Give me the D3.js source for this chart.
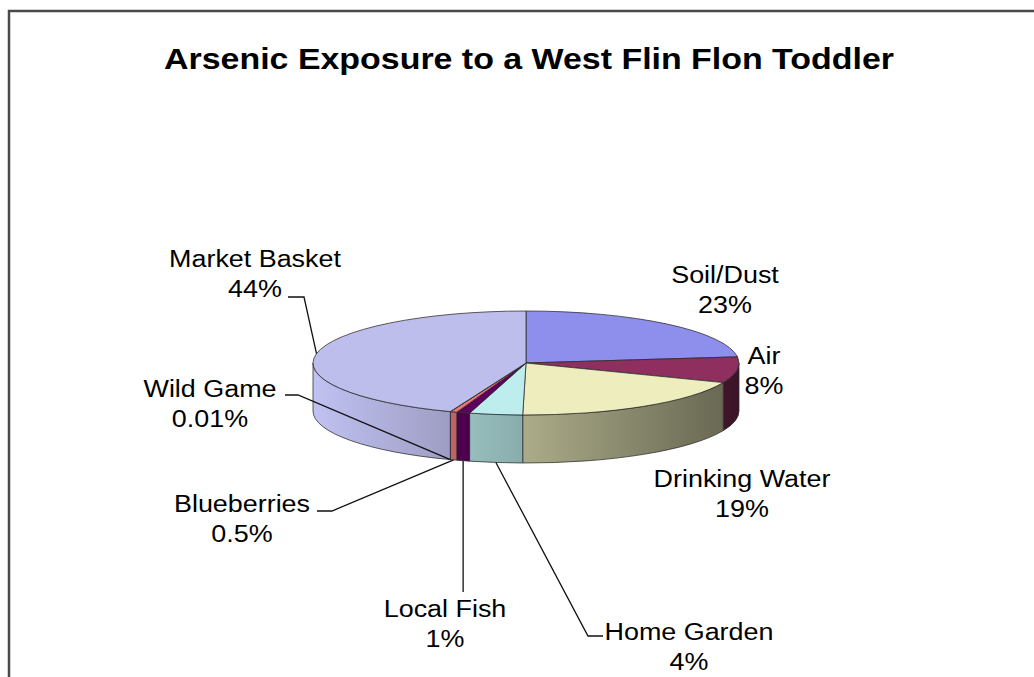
<!DOCTYPE html>
<html>
<head>
<meta charset="utf-8">
<script src="https://cdn.jsdelivr.net/npm/d3@7"></script>
<style>
  html, body { margin: 0; padding: 0; background: #ffffff; }
  svg { display: block; }
  text { font-family: "Liberation Sans", Arial, sans-serif; fill: #000; }
</style>
</head>
<body>
<svg id="chart" width="1034" height="677"></svg>
<script>
// Arsenic exposure sources, clockwise from 12 o'clock
const categories = ["Soil/Dust", "Air", "Drinking Water", "Home Garden", "Local Fish", "Blueberries", "Wild Game", "Market Basket"];
const values = [23, 8, 19, 4, 1, 0.5, 0.01, 44];
const valueLabels = ["23%", "8%", "19%", "4%", "1%", "0.5%", "0.01%", "44%"];
const colors = ["#9999FF", "#993366", "#FFFFCC", "#CCFFFF", "#660066", "#FF8080", "#0066CC", "#CCCCFF"];
const title = "Arsenic Exposure to a West Flin Flon Toddler";

// Geometry of the tilted pie
const W = 1034, H = 677;
const cx = 526, cy = 363, rx = 213, ry = 52, depth = 48;
const textStretch = 1.17;

// Label placement: text centre / first baseline, and leader line elbows
const labelLayout = {
  "Soil/Dust":      { x: 725, y: 283 },
  "Air":            { x: 764, y: 364 },
  "Drinking Water": { x: 742, y: 487 },
  "Home Garden":    { x: 689, y: 640, leader: [[603, 636], [588, 636]], rim: "bottom" },
  "Local Fish":     { x: 445, y: 617, leader: "vertical", leaderEnd: 592, rim: "bottom" },
  "Blueberries":    { x: 242, y: 512, leader: [[317, 511], [332, 511]], rim: "bottom" },
  "Wild Game":      { x: 210, y: 397, leader: [[285, 395], [298, 395]], rim: "bottom" },
  "Market Basket":  { x: 255, y: 267, leader: [[288, 297], [304, 297]], rim: "top" }
};

const svg = d3.select("#chart");
const defs = svg.append("defs");

// Frame
svg.append("path")
  .attr("d", `M9,${H + 5} L9,11 L${W + 5},11`)
  .attr("fill", "none")
  .attr("stroke", "#4a4a4a")
  .attr("stroke-width", 2.5);

// Title
svg.append("text")
  .attr("transform", `translate(529,69) scale(${textStretch},1)`)
  .attr("text-anchor", "middle")
  .attr("font-size", 29)
  .attr("font-weight", "bold")
  .text(title);

const data = categories.map((c, i) => ({ name: c, value: values[i], label: valueLabels[i], color: colors[i] }));

const pie = d3.pie().sort(null).value(d => d.value).startAngle(0).endAngle(2 * Math.PI);
const arcs = pie(data);

// angle measured clockwise from 12 o'clock
const px = a => cx + rx * Math.sin(a);
const py = (a, dz = 0) => cy - ry * Math.cos(a) + dz;

// Side shading: lighter on the left, darker on the right
const shade = s => 0.67 - 0.28 * s;
const topShade = 0.93;

arcs.forEach((d, i) => {
  const g = defs.append("linearGradient")
    .attr("id", "side" + i)
    .attr("gradientUnits", "userSpaceOnUse")
    .attr("x1", cx - rx).attr("y1", 0)
    .attr("x2", cx + rx).attr("y2", 0);
  const base = d3.rgb(d.data.color);
  d3.range(0, 1.0001, 0.1).forEach(t => {
    const s = -1 + 2 * t;
    const f = shade(s);
    g.append("stop")
      .attr("offset", t)
      .attr("stop-color", d3.rgb(base.r * f, base.g * f, base.b * f).formatHex());
  });
});

const walls = svg.append("g");
const tops = svg.append("g");
const outline = { stroke: "#2b2b2b", width: 0.9, opacity: 0.85 };

// Front outer walls (visible between 3 and 9 o'clock)
arcs.forEach((d, i) => {
  const s = Math.max(d.startAngle, Math.PI / 2);
  const e = Math.min(d.endAngle, 3 * Math.PI / 2);
  if (e <= s) return;
  const large = (e - s) > Math.PI ? 1 : 0;
  const p = `M${px(s)},${py(s)}` +
    ` A${rx},${ry} 0 ${large} 1 ${px(e)},${py(e)}` +
    ` L${px(e)},${py(e, depth)}` +
    ` A${rx},${ry} 0 ${large} 0 ${px(s)},${py(s, depth)} Z`;
  walls.append("path")
    .attr("d", p)
    .attr("fill", `url(#side${i})`)
    .attr("stroke", outline.stroke)
    .attr("stroke-width", outline.width)
    .attr("stroke-opacity", outline.opacity)
    .attr("stroke-linejoin", "round");
});

// Top faces
arcs.forEach(d => {
  const a0 = d.startAngle, a1 = d.endAngle;
  const large = (a1 - a0) > Math.PI ? 1 : 0;
  const p = `M${cx},${cy} L${px(a0)},${py(a0)}` +
    ` A${rx},${ry} 0 ${large} 1 ${px(a1)},${py(a1)} Z`;
  const base = d3.rgb(d.data.color);
  tops.append("path")
    .attr("d", p)
    .attr("fill", d3.rgb(base.r * topShade, base.g * topShade, base.b * topShade).formatHex())
    .attr("stroke", outline.stroke)
    .attr("stroke-width", outline.width)
    .attr("stroke-opacity", outline.opacity)
    .attr("stroke-linejoin", "round");
});

// Leader lines
const leaders = svg.append("g")
  .attr("fill", "none")
  .attr("stroke", "#111")
  .attr("stroke-width", 1.3);

arcs.forEach(d => {
  const lay = labelLayout[d.data.name];
  if (!lay.leader) return;
  const mid = (d.startAngle + d.endAngle) / 2;
  const rimPt = lay.rim === "top" ? [px(mid), py(mid)] : [px(mid), py(mid, depth)];
  let pts;
  if (lay.leader === "vertical") {
    pts = [[rimPt[0], lay.leaderEnd], rimPt];
  } else {
    pts = lay.leader.concat([rimPt]);
  }
  leaders.append("path").attr("d", d3.line()(pts));
});

// Labels: category name over percentage
const labels = svg.append("g");
arcs.forEach(d => {
  const lay = labelLayout[d.data.name];
  labels.append("text")
    .attr("transform", `translate(${lay.x},${lay.y}) scale(${textStretch},1)`)
    .attr("text-anchor", "middle")
    .attr("font-size", 23)
    .text(d.data.name);
  labels.append("text")
    .attr("transform", `translate(${lay.x},${lay.y + 30}) scale(${textStretch},1)`)
    .attr("text-anchor", "middle")
    .attr("font-size", 23)
    .text(d.data.label);
});
</script>
</body>
</html>
